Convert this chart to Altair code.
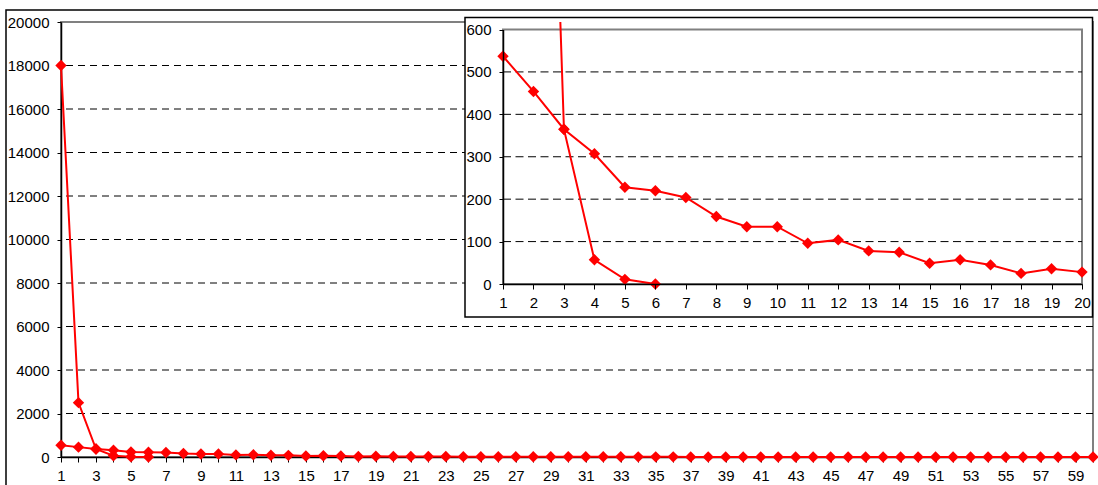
import altair as alt
import pandas as pd

# ---------------- data ----------------
x_b = list(range(1, 61))
series_b = [537, 454, 365, 307, 228, 220, 204, 159, 135, 135,
            96, 104, 78, 75, 49, 57, 45, 25, 36, 28,
            24, 22, 20, 17, 16, 14, 13, 12, 10, 10,
            9, 8, 8, 7, 6, 6, 5, 5, 4, 4,
            4, 3, 3, 3, 2, 2, 2, 2, 2, 1,
            1, 1, 1, 1, 1, 1, 1, 1, 1, 1]
x_a = [1, 2, 3, 4, 5, 6]
series_a = [18000, 2500, 365, 57, 11, 0]

main_y_ticks = [0, 2000, 4000, 6000, 8000, 10000, 12000, 14000, 16000, 18000, 20000]
main_grid = [2000, 4000, 6000, 8000, 10000, 12000, 14000, 16000, 18000]
main_x_ticks = list(range(1, 61))
inset_x_ticks = list(range(1, 21))
inset_y_ticks = [0, 100, 200, 300, 400, 500, 600]
inset_grid = [100, 200, 300, 400, 500]

df = pd.DataFrame({
    "x": x_b + x_a,
    "y": series_b + series_a,
    "series": ["B"] * len(x_b) + ["A"] * len(x_a),
})
df_main_grid = pd.DataFrame({"v": main_grid})
df_inset_grid = pd.DataFrame({"v": inset_grid})

FONT = "Liberation Sans"
RED = "#ff0000"

W, H = 1032, 435

# ---------------- main chart ----------------
xs_main = alt.Scale(domain=[1, 60], nice=False, zero=False)
ys_main = alt.Scale(domain=[0, 20000], nice=False)

axis_x_main = alt.Axis(
    values=main_x_ticks, labelExpr="datum.value % 2 == 1 ? datum.label : ''",
    labelOverlap=False, labelFlush=False, grid=False, tickSize=5,
    tickColor="black", tickWidth=1, domainColor="black", domainWidth=1.5,
    labelFont=FONT, labelFontSize=15, labelColor="black", labelPadding=6,
    title=None, zindex=0)
axis_y_main = alt.Axis(
    values=main_y_ticks, format="d", grid=False, tickSize=4,
    tickColor="black", tickWidth=1, domainColor="black", domainWidth=1.5,
    labelFont=FONT, labelFontSize=15, labelColor="black", labelPadding=8,
    labelFlush=False, title=None, zindex=0)

outer_box = alt.Chart(pd.DataFrame({"k": [0]})).mark_rect(
    fillOpacity=0, stroke="black", strokeWidth=1.5
).encode(x=alt.value(-55), x2=alt.value(1045), y=alt.value(-12), y2=alt.value(480))

main_rules = alt.Chart(df_main_grid).mark_rule(
    color="black", strokeWidth=1, strokeDash=[7, 5]
).encode(y=alt.Y("v:Q", scale=ys_main, axis=axis_y_main))

main_line = alt.Chart(df).mark_line(color=RED, strokeWidth=2).encode(
    x=alt.X("x:Q", scale=xs_main, axis=axis_x_main),
    y=alt.Y("y:Q", scale=ys_main, axis=axis_y_main),
    detail="series:N",
)
main_pts = alt.Chart(df).mark_point(
    shape="diamond", filled=True, color=RED, size=130, opacity=1
).encode(
    x=alt.X("x:Q", scale=xs_main, axis=axis_x_main),
    y=alt.Y("y:Q", scale=ys_main, axis=axis_y_main),
)

main = alt.layer(outer_box, main_rules, main_line, main_pts)

# ---------------- inset chart ----------------
xs_in = alt.Scale(domain=[1, 20], range=[442, 1021], nice=False, zero=False)
ys_in = alt.Scale(domain=[0, 600], range=[262, 7.5], nice=False)

axis_x_in = alt.Axis(
    orient="bottom", offset=-173, values=inset_x_ticks, labelOverlap=False,
    labelFlush=False, grid=False, tickSize=5, tickColor="black", tickWidth=1,
    domainColor="black", domainWidth=1.5, labelFont=FONT, labelFontSize=15,
    labelColor="black", labelPadding=6, title=None, zindex=2)
axis_y_in = alt.Axis(
    orient="left", offset=-442, values=inset_y_ticks, labelOverlap=False,
    labelFlush=False, grid=False, tickSize=4, tickColor="black", tickWidth=1,
    domainColor="black", domainWidth=1.5, labelFont=FONT, labelFontSize=15,
    labelColor="black", labelPadding=8, title=None, zindex=2)

inset_box = alt.Chart(pd.DataFrame({"k": [0]})).mark_rect(
    fill="white", stroke="black", strokeWidth=1.5
).encode(x=alt.value(404), x2=alt.value(1031.5), y=alt.value(-4.5), y2=alt.value(295))

inset_frame = alt.Chart(pd.DataFrame({"k": [0]})).mark_rect(
    fill="white", stroke="#808080", strokeWidth=2
).encode(
    x=alt.datum(1, scale=xs_in, axis=axis_x_in), x2=alt.datum(20),
    y=alt.datum(0, scale=ys_in, axis=axis_y_in), y2=alt.datum(600),
)

inset_rules = alt.Chart(df_inset_grid).mark_rule(
    color="black", strokeWidth=1, strokeDash=[8, 4.5]
).encode(
    y=alt.Y("v:Q", scale=ys_in, axis=axis_y_in),
    x=alt.datum(1, scale=xs_in, axis=axis_x_in), x2=alt.datum(20),
)

df_in = df[df["x"] <= 20]
inset_line = alt.Chart(df_in).mark_line(color=RED, strokeWidth=2, clip=True).encode(
    x=alt.X("x:Q", scale=xs_in, axis=axis_x_in),
    y=alt.Y("y:Q", scale=ys_in, axis=axis_y_in),
    detail="series:N",
)
inset_pts = alt.Chart(df_in[df_in["y"] <= 600]).mark_point(
    shape="diamond", filled=True, color=RED, size=130, opacity=1
).encode(
    x=alt.X("x:Q", scale=xs_in, axis=axis_x_in),
    y=alt.Y("y:Q", scale=ys_in, axis=axis_y_in),
)

inset = alt.layer(inset_box, inset_frame, inset_rules, inset_line, inset_pts)

chart = alt.layer(main, inset).resolve_scale(
    x="independent", y="independent"
).properties(
    width=W, height=H,
    autosize=alt.AutoSizeParams(type="none"),
    padding={"left": 61, "top": 22, "right": 5, "bottom": 28},
    background="white",
).configure_view(stroke="#808080", strokeWidth=2)

chart.save("out.html", embed_options={"renderer": "svg", "actions": False})
